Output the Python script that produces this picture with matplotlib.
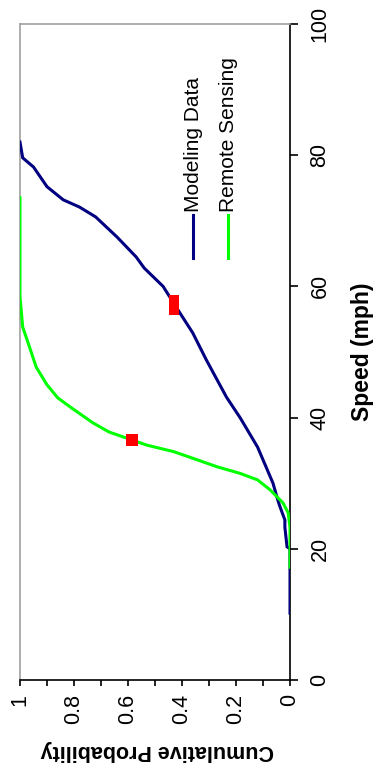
import numpy as np
import matplotlib
matplotlib.use("Agg")
import matplotlib.pyplot as plt

plt.rcParams['font.family'] = ['Liberation Sans', 'DejaVu Sans']

# cumulative distributions (speed in mph, cumulative probability)
model_speed = [10.2, 20.0, 20.3, 23.3, 24.4, 26.4, 27.4, 30.0, 35.5, 40.0, 43.1, 48.8, 52.9,
               56.1, 60.0, 62.8, 64.5, 67.5, 70.6, 72.1, 73.2, 75.2, 78.2, 79.6, 82.0]
model_prob = [0.0, 0.0, 0.011, 0.019, 0.019, 0.037, 0.045, 0.063, 0.12, 0.185, 0.235, 0.31, 0.36,
              0.41, 0.47, 0.54, 0.57, 0.64, 0.72, 0.78, 0.84, 0.90, 0.95, 0.99, 1.0]

remote_speed = [17.2, 23.3, 25.5, 27.0, 29.0, 30.5, 31.5, 32.5, 33.8, 34.8, 35.8, 37.8,
                39.2, 41.5, 43.0, 45.0, 47.7, 51.4, 53.8, 58.4, 73.5]
remote_prob = [0.0, 0.0, 0.007, 0.026, 0.074, 0.12, 0.185, 0.27, 0.36, 0.43, 0.53, 0.67,
               0.73, 0.81, 0.86, 0.90, 0.94, 0.97, 0.99, 1.0, 1.0]

# highlighted points (red boxes)
mark_speed = [57.2, 36.6]
mark_prob = [0.43, 0.585]

prob_ticks = [0, 0.2, 0.4, 0.6, 0.8, 1]
prob_labels = ['0', '0.2', '0.4', '0.6', '0.8', '1']
speed_ticks = [0, 20, 40, 60, 80, 100]

W, H = 376, 765
fig = plt.figure(figsize=(W / 100, H / 100), dpi=100)
ax = fig.add_axes([20 / W, 85 / H, 270 / W, 656 / H])

# chart is shown turned a quarter turn: probability runs right-to-left, speed bottom-to-top
ax.plot(model_prob, model_speed, color='#000080', lw=2.2, solid_joinstyle='miter', zorder=3)
ax.plot(remote_prob, remote_speed, color='#00FF00', lw=2.2, solid_joinstyle='miter', zorder=4)
box = [(-0.5, -1), (0.5, -1), (0.5, 1), (-0.5, 1), (-0.5, -1)]
ax.plot(mark_prob[:1], mark_speed[:1], ls='none', marker=box, ms=15, color='#FF0000', mew=0, zorder=5)
ax.plot(mark_prob[1:], mark_speed[1:], ls='none', marker='s', ms=8.5, color='#FF0000', mew=0, zorder=5)

ax.set_xlim(1, 0)
ax.set_ylim(0, 100)

ax.set_xticks(prob_ticks)
ax.set_xticklabels(prob_labels)
ax.set_xticks(np.arange(0.1, 1.0, 0.2), minor=True)
ax.tick_params(axis='x', which='both', direction='out', length=4, width=1.2, color='black',
               labelsize=15.5, labelrotation=90, pad=6)

ax.yaxis.tick_right()
ax.set_yticks(speed_ticks)
ax.tick_params(axis='y', direction='out', length=6, width=1.2, color='black',
               labelsize=15.5, labelrotation=90, pad=8)
for t in ax.get_yticklabels():
    t.set_verticalalignment('center')

for s in ['top', 'left']:
    ax.spines[s].set_color('#a0a0a0')
    ax.spines[s].set_linewidth(1.2)
for s in ['bottom', 'right']:
    ax.spines[s].set_color('black')
    ax.spines[s].set_linewidth(1.2)

fig.text(157 / W, 1 - 750 / H, 'Cumulative Probability', rotation=180, fontsize=15.5,
         fontweight='bold', ha='center', va='center')
fig.text(362 / W, 1 - 352 / H, 'Speed (mph)', rotation=90, fontsize=16.5,
         fontweight='bold', ha='center', va='center')

# legend, drawn turned like the rest of the chart
legend_names = ['Modeling Data', 'Remote Sensing']
legend_colors = ['#000080', '#00FF00']
for i, (name, col) in enumerate(zip(legend_names, legend_colors)):
    xf = 0.641 + i * 0.13
    ax.plot([xf, xf], [0.643, 0.709], color=col, lw=2.2, transform=ax.transAxes)
    ax.text(xf + 0.002, 0.713, name, rotation=90, fontsize=15, ha='center', va='bottom',
            transform=ax.transAxes)

fig.savefig('out.png', dpi=100)
